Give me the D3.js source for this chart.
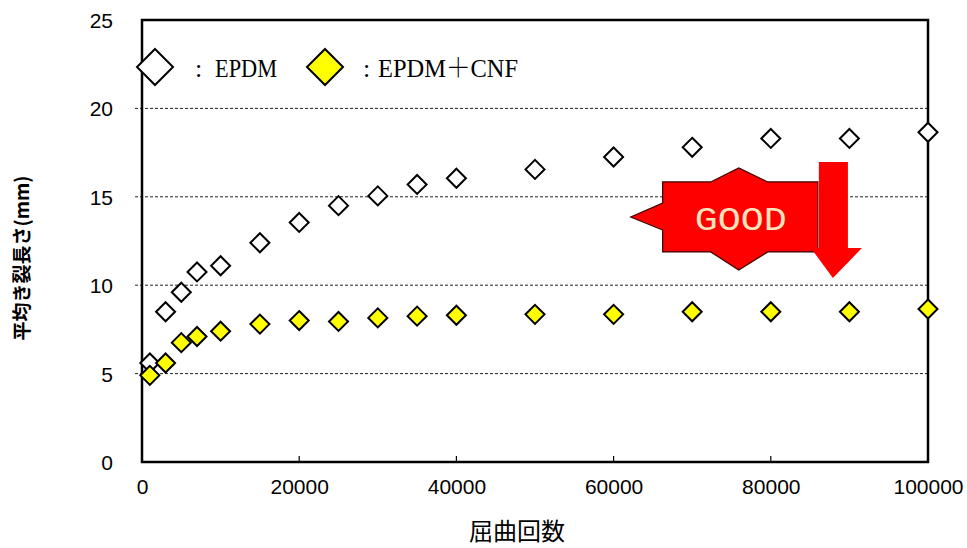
<!DOCTYPE html>
<html><head><meta charset="utf-8">
<script src="https://cdn.jsdelivr.net/npm/d3@7"></script>
<style>html,body{margin:0;padding:0;background:#fff;}svg{display:block;}</style>
</head><body>
<script>
// ---- data ----
const cycles = [1000,3000,5000,7000,10000,15000,20000,25000,30000,35000,40000,50000,60000,70000,80000,90000,100000];
const epdm = [5.6,8.5,9.6,10.75,11.1,12.4,13.55,14.5,15.05,15.7,16.05,16.55,17.25,17.8,18.3,18.3,18.65];
const epdmCnf = [4.9,5.6,6.75,7.1,7.4,7.8,8.0,7.95,8.15,8.25,8.3,8.35,8.35,8.5,8.5,8.5,8.65];
const xTicks = [0,20000,40000,60000,80000,100000];
const yTicks = [0,5,10,15,20,25];
const seriesNames = ["EPDM","EPDM＋CNF"];
const xTitle = "屈曲回数";
const yTitle = "平均き裂長さ(mm)";
// annotation shapes in data units [cycles, length]
const goodShape = [[62170,13.86],[66240,14.65],[66240,15.84],[72360,15.84],[75920,16.63],[79620,15.84],[85990,15.84],[85990,11.88],[79620,11.88],[75920,10.86],[72360,11.88],[66240,11.88],[66240,13.12]];
const arrowShape = [[86115,16.97],[89810,16.97],[89810,12.1],[91590,12.1],[87900,10.41],[85100,12.1],[86115,12.1]];
const goodLabel = {text:"GOOD", x:76180, y:13.8};

const W = 967, H = 548;
const svg = d3.select("body").append("svg").attr("width",W).attr("height",H);
const x = d3.scaleLinear().domain([0,100000]).range([142,928]);
const y = d3.scaleLinear().domain([0,25]).range([462,20]);

// gridlines
svg.append("g").selectAll("line").data(yTicks.filter(d=>d>0&&d<25)).join("line")
  .attr("x1",135).attr("x2",x(100000)).attr("y1",d=>y(d)).attr("y2",d=>y(d))
  .attr("stroke","#222").attr("stroke-width",1).attr("stroke-dasharray","3,2");

// axes
const yAxis = d3.axisLeft(y).tickValues(yTicks).tickSize(0).tickPadding(29);
const gy = svg.append("g").attr("transform",`translate(${x(0)},0)`).call(yAxis);
gy.select(".domain").remove();
gy.selectAll("text").attr("font-family","'Liberation Sans',Arial,sans-serif").attr("font-size",21).attr("fill","#000").attr("dy","0.36em");

const xAxis = d3.axisBottom(x).tickValues(xTicks).tickSize(0).tickPadding(17).tickFormat(d3.format("d"));
const gx = svg.append("g").attr("transform",`translate(0,${y(0)})`).call(xAxis);
gx.select(".domain").remove();
gx.selectAll("text").attr("font-family","'Liberation Sans',Arial,sans-serif").attr("font-size",21).attr("fill","#000");
// inner x ticks
svg.append("g").selectAll("line").data(xTicks.slice(1,-1)).join("line")
  .attr("x1",d=>x(d)).attr("x2",d=>x(d)).attr("y1",y(0)).attr("y2",y(0)-6)
  .attr("stroke","#000").attr("stroke-width",1.2);

// frame
svg.append("rect").attr("x",x(0)).attr("y",y(25)).attr("width",x(100000)-x(0)).attr("height",y(0)-y(25))
  .attr("fill","none").attr("stroke","#000").attr("stroke-width",2.5);

// markers
const diamond = r => `M0,${-r}L${r},0L0,${r}L${-r},0Z`;
const series = [{vals:epdm, fill:"#ffffff"},{vals:epdmCnf, fill:"#ffff00"}];
series.forEach(s=>{
  svg.append("g").selectAll("path").data(cycles.map((c,i)=>[c,s.vals[i]])).join("path")
    .attr("d",diamond(9.5)).attr("transform",d=>`translate(${x(d[0])},${y(d[1])})`)
    .attr("fill",s.fill).attr("stroke","#000").attr("stroke-width",2);
});

// legend
const lg = svg.append("g").attr("font-family","'Liberation Serif','Noto Serif CJK JP',serif").attr("font-size",26).attr("fill","#000");
lg.append("path").attr("d",diamond(18)).attr("transform","translate(155,67)").attr("fill","#fff").attr("stroke","#000").attr("stroke-width",2);
lg.append("text").attr("x",195).attr("y",77).text(":");
lg.append("text").attr("x",215).attr("y",77).attr("textLength",62).attr("lengthAdjust","spacingAndGlyphs").text(seriesNames[0]);
lg.append("path").attr("d",diamond(18)).attr("transform","translate(325,67)").attr("fill","#ffff00").attr("stroke","#000").attr("stroke-width",2);
lg.append("text").attr("x",363).attr("y",77).text(":");
lg.append("text").attr("x",378).attr("y",77).attr("textLength",140).attr("lengthAdjust","spacingAndGlyphs").text(seriesNames[1]);

// axis titles
svg.append("text").attr("x",517).attr("y",540).attr("text-anchor","middle")
  .attr("font-family","'Noto Sans CJK JP',sans-serif").attr("font-size",24).attr("fill","#000").text(xTitle);
svg.append("text").attr("transform","translate(29,258) rotate(-90)").attr("text-anchor","middle")
  .attr("font-family","'Noto Sans CJK JP',sans-serif").attr("font-weight","bold").attr("font-size",19).attr("fill","#000").text(yTitle);

// GOOD annotation
const line = d3.line().x(d=>x(d[0])).y(d=>y(d[1]));
svg.append("path").attr("d",line(goodShape)+"Z").attr("fill","#ff0000").attr("stroke","#3a0000").attr("stroke-width",1.2);
svg.append("text").attr("x",x(goodLabel.x)).attr("y",y(goodLabel.y)).attr("dy","0.35em").attr("text-anchor","middle")
  .attr("font-family","'Liberation Mono','Courier New',monospace").attr("font-size",33)
  .attr("textLength",92).attr("lengthAdjust","spacingAndGlyphs")
  .attr("fill","#ffe3bd").text(goodLabel.text);
svg.append("path").attr("d",line(arrowShape)+"Z").attr("fill","#ff0000");
</script>
</body></html>
